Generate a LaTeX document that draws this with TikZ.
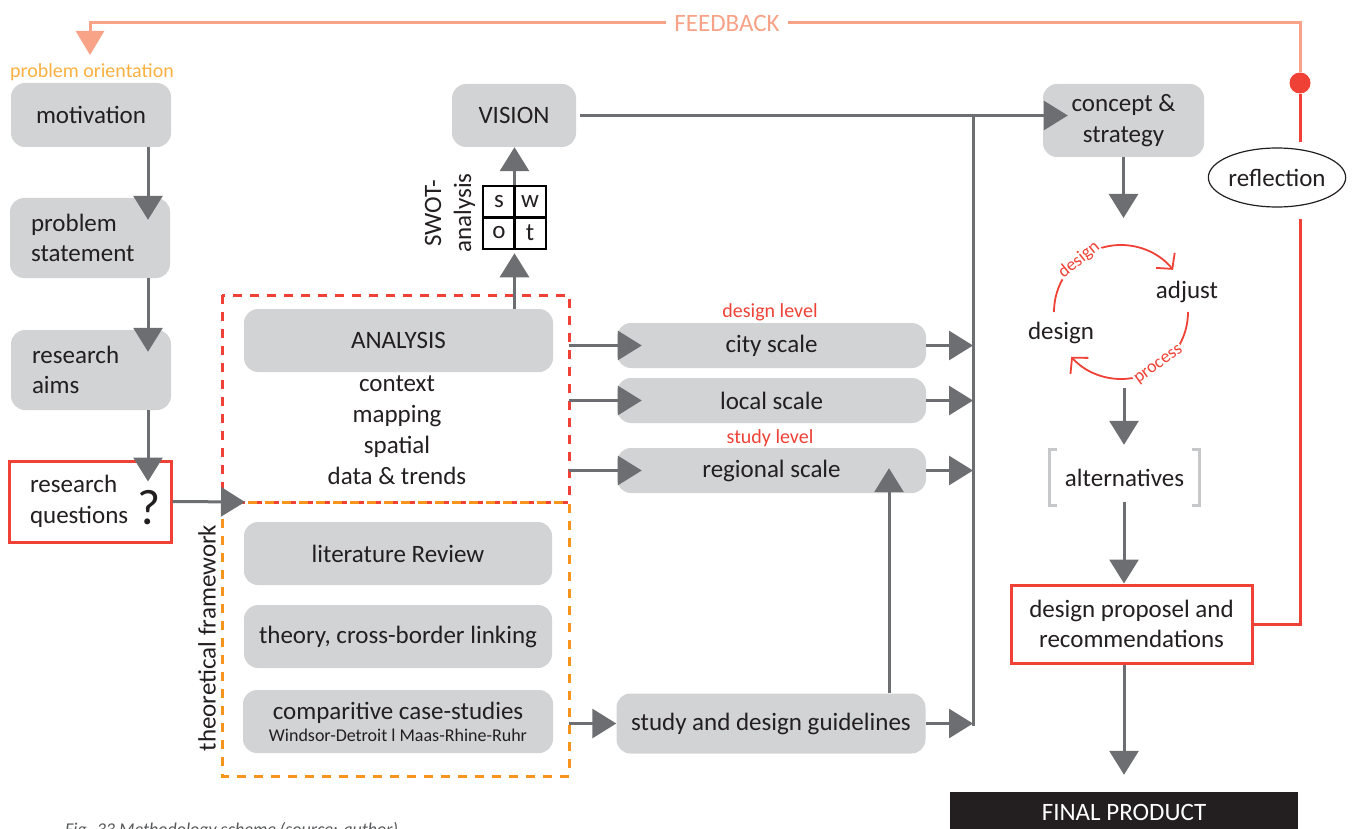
\documentclass[tikz,border=0pt]{standalone}
\usepackage{fontspec}
\setmainfont{Carlito}
\usetikzlibrary{arrows.meta,calc,shapes.geometric}
\definecolor{boxgray}{HTML}{D1D3D4}
\definecolor{arrowgray}{HTML}{6D6E71}
\definecolor{txt}{HTML}{231F20}
\definecolor{mred}{HTML}{EF4136}
\definecolor{morange}{HTML}{F7941D}
\definecolor{porange}{HTML}{FBB040}
\definecolor{salmon}{HTML}{F8A387}
\definecolor{brkgray}{HTML}{C7C8CA}
\definecolor{capgray}{HTML}{58595B}
\newcommand\fsA{\fontsize{25pt}{30.5pt}\selectfont}
\newcommand\fsB{\fontsize{20pt}{24pt}\selectfont}
\newcommand\fsC{\fontsize{18pt}{22pt}\selectfont}
\begin{document}
\begin{tikzpicture}[x=1pt,y=-1pt,
  every node/.style={text=txt},
  gbox/.style={fill=boxgray, rounded corners=14pt, inner sep=0pt, align=center, font=\fsA},
  rbox/.style={fill=white, draw=mred, line width=3pt, inner sep=0pt, align=center, font=\fsA},
  arr/.style={draw=arrowgray, line width=3pt, -{Triangle[length=24pt,width=29pt]}},
  ln/.style={draw=arrowgray, line width=3pt},
  reddash/.style={draw=mred, line width=3pt, dash pattern=on 9pt off 8pt},
  orgdash/.style={draw=morange, line width=3pt, dash pattern=on 9pt off 8pt},
  cycarc/.style={draw=mred, line width=1.8pt, -{Straight Barb[length=11pt,width=24pt]}},
  brk/.style={draw=brkgray, line width=3pt},
  lbl/.style={font=\fsA, inner sep=0pt}
]
\useasboundingbox (0,0) rectangle (1354,829);
\clip (0,0) rectangle (1354,829);

% ---------- left column ----------
\node[font=\fsB, text=porange, inner sep=0pt] (po) at (92,72) {problem orientation};
\node[gbox, minimum width=160pt, minimum height=64pt] (mot) at (91,115) {motivation};
\node[gbox, minimum width=160pt, minimum height=80pt, text width=118pt, inner xsep=21pt, align=left] (ps) at (90,238) {problem\\statement};
\node[gbox, minimum width=160pt, minimum height=80pt, text width=118pt, inner xsep=21pt, align=left] (ra) at (91,370) {research\\aims};
\node[rbox, minimum width=162pt, minimum height=81pt, text width=120pt, inner xsep=21pt, align=left] (rq) at (90,501.5) {research\\questions};
\node[inner sep=0pt, font=\fontsize{50pt}{50pt}\selectfont] (qm) at (149,508) {?};

\coordinate (cl) at (148,0);
\draw[arr] (mot.south -| cl) -- ($(ps.north -| cl)+(0,22)$);
\draw[arr] (ps.south -| cl) -- ($(ra.north -| cl)+(0,22)$);
\draw[arr] (ra.south -| cl) -- ($(rq.north -| cl)+(0,22)$);

% ---------- frames ----------
\coordinate (frTL) at (222,295);
\coordinate (frM) at (222,502);
\coordinate (frMR) at (569,502);
\coordinate (frBR) at (569,776);
\coordinate (frR) at (569,0);
\draw[reddash] (frTL) rectangle (frMR);
\draw[orgdash] (frM) rectangle (frBR);
\draw[arr] (rq.east) -- ($(frM)+(23,0)$);
\node[lbl, rotate=90] (tf) at (207,638) {theoretical framework};

% analysis block
\node[gbox, minimum width=309pt, minimum height=63pt] (ana) at (398.5,340.5) {ANALYSIS};
\node[inner sep=0pt, align=center, font=\fontsize{25pt}{31pt}\selectfont] (ctx) at (397,430) {context\\mapping\\spatial\\data \& trends};

% theory block
\node[gbox, minimum width=308pt, minimum height=63pt] (lit) at (398,553.5) {literature Review};
\node[gbox, minimum width=308pt, minimum height=63pt] (theo) at (398,636.5) {theory, cross-border linking};
\node[gbox, minimum width=310pt, minimum height=63pt, font=\fontsize{25pt}{22pt}\selectfont] (comp) at (398,721.5) {comparitive case-studies\\{\fsC Windsor-Detroit l Maas-Rhine-Ruhr}};

% ---------- SWOT and vision ----------
\node[draw=black, line width=2.5pt, minimum size=63pt, inner sep=0pt] (sw) at (514.5,217.5) {};
\draw[black, line width=2.5pt] (sw.north) -- (sw.south) (sw.west) -- (sw.east);
\node[lbl] (ss) at ($(sw)+(-15.5,-16)$) {s};
\node[lbl] (sww) at ($(sw)+(15.5,-16)$) {w};
\node[lbl] (so) at ($(sw)+(-15.5,15)$) {o};
\node[lbl] (st) at ($(sw)+(15.5,15)$) {t};
\node[lbl, rotate=90, align=center, font=\fontsize{25pt}{30pt}\selectfont] (swl) at (450,213) {SWOT-\\analysis};
\node[gbox, minimum width=124pt, minimum height=63pt] (vis) at (514,115.5) {VISION};
\draw[arr] (ana.north -| sw) -- ($(sw.south)+(0,3)$);
\draw[arr] (sw.north) -- (vis.south -| sw);

% ---------- scales ----------
\node[gbox, minimum width=309pt, minimum height=45pt] (city) at (771.5,345.5) {city scale};
\node[gbox, minimum width=309pt, minimum height=45pt] (local) at (771.5,400.5) {local scale};
\node[gbox, minimum width=309pt, minimum height=45pt] (reg) at (771.5,470.5) {regional scale};
\node[gbox, minimum width=309pt, minimum height=60pt] (guide) at (771,723.5) {study and design guidelines};
\node[font=\fsB, text=mred, inner sep=0pt] (dl) at (770,312) {design level};
\node[font=\fsB, text=mred, inner sep=0pt] (sl) at (770,438) {study level};

\coordinate (colT) at (973,115.5);
\coordinate (colB) at (973,726);
\draw[ln] (colT) -- (colB);

\draw[arr] (city -| frR) -- ($(city.west)+(25,0)$);
\draw[arr] (local -| frR) -- ($(local.west)+(25,0)$);
\draw[arr] (reg -| frR) -- ($(reg.west)+(25,0)$);
\draw[arr] (city.east) -- (city -| colB);
\draw[arr] (local.east) -- (local -| colB);
\draw[arr] (reg.east) -- (reg -| colB);
\draw[arr] (guide -| frR) -- (guide.west);
\draw[arr] (guide.east) -- (guide -| colB);
\coordinate (cu) at (889,0);
\draw[arr] (guide.north -| cu) -- ($(reg.south -| cu)+(0,-25)$);

% ---------- right column ----------
\node[gbox, minimum width=161pt, minimum height=73pt] (con) at (1123.5,120.5) {concept \&\\strategy};
\draw[arr] ($(vis.east)+(4,0)$) -- ($(con.west |- vis)+(25,0)$);

\coordinate (cyctop) at (1124,218);
\coordinate (cycbot) at (1124,388);
\coordinate (cyc) at (1121,312);
\draw[arr] (con.south) -- (con.south |- cyctop);

\draw[cycarc] ($(cyc)+(180:67)$) arc[start angle=180, end angle=321, radius=67];
\draw[cycarc] ($(cyc)+(0:67)$) arc[start angle=0, end angle=138, radius=67];
\node[font=\fsC, text=mred, fill=white, inner sep=1pt, rotate=39] (dlab) at (1079,260) {design};
\node[font=\fsC, text=mred, fill=white, inner sep=1pt, rotate=36] (plab) at (1159,365) {process};
\node[lbl] (adj) at (1187,292) {adjust};
\node[lbl] (des) at (1061,333) {design};

\node[lbl, minimum width=150pt, minimum height=55pt] (alt) at (1124.5,477.5) {alternatives};
\draw[brk] ($(alt.north west)+(8,0)$) -- (alt.north west) -- (alt.south west) -- ($(alt.south west)+(8,0)$);
\draw[brk] ($(alt.north east)+(-8,0)$) -- (alt.north east) -- (alt.south east) -- ($(alt.south east)+(-8,0)$);
\draw[arr] (cycbot) -- ($(alt.north -| cycbot)+(0,-5)$);

\node[rbox, minimum width=241pt, minimum height=78pt] (dp) at (1131.5,624) {design proposel and\\recommendations};
\draw[arr] ($(alt.south -| cycbot)+(0,-3)$) -- (dp.north -| cycbot);

\node[fill=txt, text=white, font=\fsA, minimum width=348pt, minimum height=40pt, inner sep=0pt] (final) at (1124,812) {FINAL PRODUCT};
\draw[arr] (dp.south -| cycbot) -- ($(final.north -| cycbot)+(0,-17)$);

% ---------- reflection / feedback ----------
\node[ellipse, draw=txt, line width=1.2pt, minimum width=134pt, minimum height=59pt, inner sep=0pt, font=\fsA] (refl) at (1277,177.5) {reflection};
\node[circle, fill=mred, minimum size=21pt, inner sep=0pt] (dot) at (1300,83) {};
\draw[mred, line width=3pt] (dp.east) -- (dp.east -| dot) -- ($(refl.south -| dot)+(0,11)$);
\draw[mred, line width=3pt] ($(refl.north -| dot)+(0,-5)$) -- (dot.south);
\node[font=\fsA, text=salmon, inner xsep=8pt, inner ysep=0pt] (fb) at (727,23) {FEEDBACK};
\coordinate (fbtip) at (90,55);
\draw[salmon, line width=3pt] (dot.north) -- (dot |- fb) -- (fb.east);
\draw[salmon, line width=3pt, -{Triangle[length=24pt,width=28pt]}] (fb.west) -- (fbtip |- fb) -- (fbtip);

% caption (cut off at the bottom edge)
\node[font=\itshape\fontsize{18pt}{20pt}\selectfont, text=capgray, anchor=base west, inner sep=0pt] (cap) at (65,835) {Fig. 33 Methodology scheme (source: author)};
\end{tikzpicture}
\end{document}
